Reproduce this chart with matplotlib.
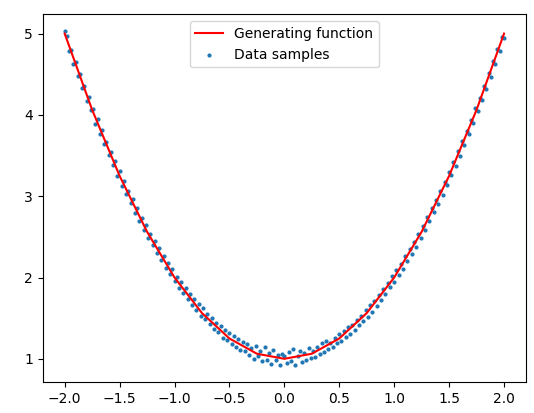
import numpy as np
import matplotlib
matplotlib.use("Agg")
import matplotlib.pyplot as plt

# sample y values, negative side listed from x=-2.00 up to x=-0.02
y_neg = [5.03,4.97,4.78,4.80,4.63,4.65,4.48,4.50,4.33,4.35,4.17,4.22,4.06,4.07,3.89,3.95,3.76,3.81,3.64,3.67,
         3.51,3.54,3.38,3.43,3.25,3.31,3.13,3.19,3.03,3.06,2.92,2.96,2.79,2.86,2.70,2.73,2.59,2.64,2.48,2.54,
         2.40,2.45,2.30,2.36,2.21,2.27,2.12,2.18,2.04,2.10,1.96,2.01,1.87,1.95,1.81,1.87,1.73,1.80,1.66,1.74,
         1.60,1.68,1.53,1.62,1.49,1.55,1.43,1.50,1.37,1.44,1.33,1.40,1.26,1.36,1.23,1.32,1.18,1.28,1.15,1.24,
         1.11,1.21,1.10,1.18,1.05,1.13,1.00,1.16,1.03,1.10,0.97,1.14,0.99,1.07,0.94,1.11,0.98,1.05,0.92,1.06]
# x=0.00 up to x=2.00
y_pos = [1.03,0.95,1.08,0.97,1.12,0.93,1.04,1.10,0.96,1.07,0.98,1.13,1.01,1.09,1.02,1.15,1.06,1.19,1.08,1.22,
         1.12,1.20,1.14,1.26,1.19,1.30,1.22,1.34,1.27,1.39,1.31,1.42,1.36,1.48,1.41,1.53,1.47,1.60,1.52,1.66,
         1.58,1.71,1.65,1.79,1.72,1.86,1.80,1.93,1.88,2.02,1.95,2.09,2.03,2.17,2.11,2.26,2.20,2.35,2.29,2.44,
         2.38,2.53,2.49,2.63,2.58,2.74,2.69,2.85,2.80,2.95,2.91,3.07,3.02,3.18,3.14,3.30,3.26,3.42,3.37,3.55,
         3.50,3.68,3.63,3.80,3.77,3.94,3.90,4.08,4.05,4.21,4.18,4.36,4.32,4.51,4.47,4.66,4.62,4.81,4.79,4.96,4.94]
y_samples = y_neg + y_pos
x_samples = np.linspace(-2, 2, len(y_samples))

x_line = [-2.0,-1.75,-1.5,-1.25,-1.0,-0.75,-0.5,-0.25,0.0,0.25,0.5,0.75,1.0,1.25,1.5,1.75,2.0]
y_line = [5.0,4.0625,3.25,2.5625,2.0,1.5625,1.25,1.0625,1.0,1.0625,1.25,1.5625,2.0,2.5625,3.25,4.0625,5.0]

fig, ax = plt.subplots(figsize=(5.34, 4.13), dpi=100)
fig.subplots_adjust(left=0.08, right=0.985, top=0.965, bottom=0.075)
ax.plot(x_line, y_line, color="red", label="Generating function")
ax.scatter(x_samples, y_samples, s=4, color="#1f77b4", label="Data samples")
ax.legend(loc="upper center")
fig.savefig("out.png", dpi=100)
